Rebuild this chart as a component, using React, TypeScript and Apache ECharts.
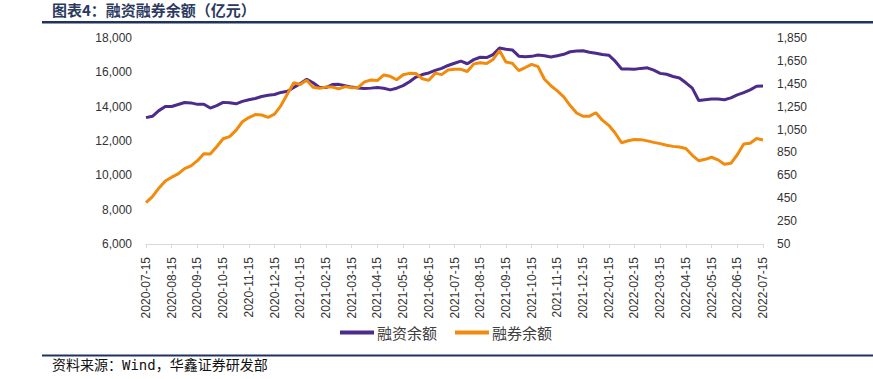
import { useEffect, useRef } from "react";
import * as echarts from "echarts";

const monthLabels = [
  "2020-07-15", "2020-08-15", "2020-09-15", "2020-10-15", "2020-11-15", "2020-12-15",
  "2021-01-15", "2021-02-15", "2021-03-15", "2021-04-15", "2021-05-15", "2021-06-15",
  "2021-07-15", "2021-08-15", "2021-09-15", "2021-10-15", "2021-11-15", "2021-12-15",
  "2022-01-15", "2022-02-15", "2022-03-15", "2022-04-15", "2022-05-15", "2022-06-15",
  "2022-07-15",
];
const pointsPerMonth = 4;

// 融资余额 (left axis, 亿元)
const marginBalance = [
  13360, 13440, 13770, 14010, 14010, 14125, 14240, 14220, 14135, 14145,
  13920, 14057, 14250, 14225, 14165, 14310, 14400, 14475, 14590, 14660,
  14710, 14830, 14895, 15120, 15340, 15600, 15390, 15115, 15110, 15285,
  15300, 15215, 15140, 15090, 15055, 15080, 15120, 15075, 14980, 15075,
  15225, 15450, 15725, 15870, 15965, 16110, 16230, 16400, 16530, 16650,
  16500, 16740, 16880, 16860, 17035, 17420, 17350, 17305, 16940, 16911,
  16930, 17005, 16970, 16890, 16970, 17050, 17200, 17245, 17260, 17175,
  17115, 17040, 17000, 16650, 16194, 16194, 16185, 16230, 16260, 16125,
  15940, 15886, 15755, 15670, 15390, 15080, 14360, 14405, 14447, 14447,
  14405, 14510, 14690, 14820, 14980, 15190, 15204,
];

// 融券余额 (right axis, 亿元)
const shortBalance = [
  411, 464, 538, 600, 634, 663, 708, 732, 778, 839,
  836, 900, 970, 988, 1043, 1118, 1155, 1181, 1177, 1157,
  1184, 1260, 1360, 1459, 1444, 1480, 1419, 1410, 1422, 1422,
  1405, 1425, 1415, 1418, 1467, 1483, 1478, 1527, 1515, 1485,
  1529, 1541, 1540, 1494, 1480, 1543, 1530, 1570, 1576, 1576,
  1557, 1624, 1634, 1627, 1663, 1740, 1640, 1629, 1565, 1592,
  1620, 1600, 1490, 1433, 1388, 1336, 1260, 1195, 1166, 1167,
  1197, 1132, 1087, 1020, 935, 952, 963, 962, 951, 938,
  927, 913, 903, 897, 885, 825, 778, 790, 808, 785,
  746, 755, 830, 924, 930, 972, 959,
];

const leftMin = 6000;
const leftMax = 18000;
const leftStep = 2000;
const rightMin = 50;
const rightMax = 1850;
const rightStep = 200;

const seriesNames = ["融资余额", "融券余额"];
const titleText = "图表4：融资融券余额（亿元）";
const sourceText = "资料来源：Wind，华鑫证券研发部";

const PURPLE = "#4c2b8c";
const ORANGE = "#f28a0c";
const NAVY = "#1f3260";

function buildCategories(): string[] {
  const cats: string[] = [];
  for (let m = 0; m < monthLabels.length; m++) {
    cats.push(monthLabels[m]);
    if (m < monthLabels.length - 1) {
      for (let k = 1; k < pointsPerMonth; k++) cats.push(monthLabels[m] + "|" + k);
    }
  }
  return cats;
}

const fmt = (v: number) => Math.round(v).toLocaleString("en-US");

export default function App() {
  const ref = useRef<HTMLDivElement>(null);

  useEffect(() => {
    document.body.style.margin = "0";
    if (!ref.current) return;
    const chart = echarts.init(ref.current, undefined, { renderer: "svg" });
    const categories = buildCategories();
    const labelFont = "'Liberation Sans', Arial, sans-serif";

    chart.setOption({
      animation: false,
      backgroundColor: "#ffffff",
      grid: { left: 146, right: 110, top: 38, bottom: 135, containLabel: false },
      legend: {
        data: seriesNames,
        left: 335,
        top: 320,
        itemWidth: 34,
        itemHeight: 4,
        itemGap: 18,
        icon: "rect",
        textStyle: {
          fontSize: 15,
          color: "#404040",
          fontFamily: "'Noto Sans CJK SC', sans-serif",
          padding: [0, 0, 0, -2],
        },
      },
      xAxis: {
        type: "category",
        data: categories,
        boundaryGap: false,
        axisLine: { show: true, lineStyle: { color: "#d9d9d9", width: 1 } },
        axisTick: {
          show: true,
          interval: pointsPerMonth - 1,
          length: 4,
          lineStyle: { color: "#d9d9d9" },
        },
        axisLabel: {
          interval: pointsPerMonth - 1,
          rotate: 90,
          margin: 13,
          fontSize: 12,
          color: "#333333",
          fontFamily: labelFont,
          formatter: (v: string) => v.split("|")[0],
        },
        splitLine: { show: false },
      },
      yAxis: [
        {
          type: "value",
          min: leftMin,
          max: leftMax,
          interval: leftStep,
          axisLine: { show: false },
          axisTick: { show: false },
          splitLine: { show: false },
          axisLabel: {
            margin: 14,
            fontSize: 12,
            color: "#333333",
            fontFamily: labelFont,
            formatter: (v: number) => fmt(v),
          },
        },
        {
          type: "value",
          min: 0,
          max: rightMax - rightMin,
          interval: rightStep,
          position: "right",
          axisLine: { show: false },
          axisTick: { show: false },
          splitLine: { show: false },
          axisLabel: {
            margin: 14,
            fontSize: 12,
            color: "#333333",
            fontFamily: labelFont,
            formatter: (v: number) => fmt(v + rightMin),
          },
        },
      ],
      series: [
        {
          name: seriesNames[0],
          type: "line",
          yAxisIndex: 0,
          data: marginBalance,
          showSymbol: false,
          symbol: "none",
          lineStyle: { color: PURPLE, width: 3 },
          itemStyle: { color: PURPLE },
        },
        {
          name: seriesNames[1],
          type: "line",
          yAxisIndex: 1,
          data: shortBalance.map((v) => v - rightMin),
          showSymbol: false,
          symbol: "none",
          lineStyle: { color: ORANGE, width: 3 },
          itemStyle: { color: ORANGE },
        },
      ],
      graphic: [
        {
          type: "text",
          left: 52,
          top: 2,
          style: {
            text: titleText,
            fontSize: 15,
            fontWeight: "bold",
            fill: "#2b3a5e",
            fontFamily: "'Noto Sans CJK SC', sans-serif",
          },
        },
        {
          type: "rect",
          shape: { x: 42, y: 21, width: 831, height: 2.5 },
          style: { fill: NAVY },
        },
        {
          type: "rect",
          shape: { x: 42, y: 354.5, width: 831, height: 2 },
          style: { fill: NAVY },
        },
        {
          type: "text",
          left: 52,
          top: 358,
          style: {
            text: sourceText,
            fontSize: 14,
            fill: "#111111",
            fontFamily: "'DejaVu Sans Mono', 'Noto Sans CJK SC', monospace",
          },
        },
      ],
    });

    return () => chart.dispose();
  }, []);

  return <div ref={ref} style={{ width: 873, height: 379 }} />;
}
